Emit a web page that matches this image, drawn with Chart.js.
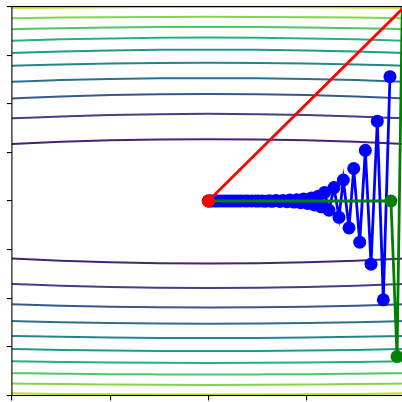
<!DOCTYPE html>
<html>
<head>
<meta charset="utf-8">
<script src="https://cdn.jsdelivr.net/npm/chart.js@4.4.1/dist/chart.umd.min.js"></script>
<style>
  html, body { margin: 0; padding: 0; background: #fff; overflow: hidden; }
  #wrap { position: relative; width: 420px; height: 402px; }
</style>
</head>
<body>
<div id="wrap"><canvas id="pathChart" width="420" height="402"></canvas></div>
<script>
// contour levels, sampled at x = -2..2, inner level first
const contourX = [-2, -1.5, -1, -0.5, 0, 0.5, 1, 1.5, 2];
const contourUpper = [
  [0.586, 0.608, 0.624, 0.633, 0.636, 0.633, 0.624, 0.608, 0.586],
  [0.850, 0.870, 0.885, 0.893, 0.896, 0.893, 0.885, 0.870, 0.850],
  [1.054, 1.074, 1.089, 1.097, 1.100, 1.097, 1.089, 1.074, 1.054],
  [1.227, 1.243, 1.254, 1.261, 1.263, 1.261, 1.254, 1.243, 1.227],
  [1.390, 1.404, 1.413, 1.419, 1.421, 1.419, 1.413, 1.404, 1.390],
  [1.522, 1.537, 1.548, 1.554, 1.556, 1.554, 1.548, 1.537, 1.522],
  [1.648, 1.662, 1.672, 1.678, 1.680, 1.678, 1.672, 1.662, 1.648],
  [1.767, 1.777, 1.784, 1.789, 1.790, 1.789, 1.784, 1.777, 1.767],
  [1.879, 1.886, 1.890, 1.893, 1.894, 1.893, 1.890, 1.886, 1.879],
  [1.986, 1.990, 1.993, 1.995, 1.996, 1.995, 1.993, 1.990, 1.986],
];
const contourLower = [
  [-0.591, -0.614, -0.630, -0.639, -0.642, -0.639, -0.630, -0.614, -0.591],
  [-0.853, -0.871, -0.884, -0.891, -0.894, -0.891, -0.884, -0.871, -0.853],
  [-1.061, -1.076, -1.087, -1.093, -1.095, -1.093, -1.087, -1.076, -1.061],
  [-1.234, -1.246, -1.254, -1.259, -1.261, -1.259, -1.254, -1.246, -1.234],
  [-1.387, -1.397, -1.404, -1.409, -1.410, -1.409, -1.404, -1.397, -1.387],
  [-1.522, -1.531, -1.538, -1.542, -1.543, -1.542, -1.538, -1.531, -1.522],
  [-1.648, -1.655, -1.661, -1.664, -1.665, -1.664, -1.661, -1.655, -1.648],
  [-1.770, -1.776, -1.781, -1.783, -1.784, -1.783, -1.781, -1.776, -1.770],
  [-1.876, -1.883, -1.887, -1.890, -1.891, -1.890, -1.887, -1.883, -1.876],
  [-1.978, -1.984, -1.988, -1.990, -1.991, -1.990, -1.988, -1.984, -1.978],
];
const levelColors = [
  "#482374", "#433e85", "#38588c", "#2d708e", "#25858e",
  "#1e9b8a", "#2ab07f", "#52c569", "#86d549", "#c2df23",
];

// optimiser paths
const blueX = [
  0, 0.02, 0.04, 0.07, 0.09, 0.12, 0.15, 0.18, 0.21, 0.24,
  0.27, 0.30, 0.33, 0.37, 0.40, 0.44, 0.48, 0.51, 0.55, 0.58,
  0.62, 0.65, 0.69, 0.73, 0.76, 0.80, 0.83, 0.87, 0.90, 0.94,
  0.97, 1.01, 1.05, 1.08, 1.12, 1.15, 1.185, 1.229, 1.280, 1.331,
  1.375, 1.433, 1.481, 1.542, 1.599, 1.657, 1.721, 1.782, 1.850,
];
const blueY = [
  0, 0, 0, 0, 0, 0, 0, 0, 0, 0,
  0, 0, 0, 0, 0, 0, 0, -0.001, 0.001, -0.002,
  0.002, -0.003, 0.004, -0.005, 0.006, -0.007, 0.009, -0.011, 0.013, -0.017,
  0.021, -0.026, 0.032, -0.040, 0.050, -0.060, 0.088, -0.095, 0.138, -0.168,
  0.216, -0.277, 0.334, -0.423, 0.521, -0.650, 0.820, -1.016, 1.278,
];
const greenX = [0, 1.86, 1.922, 1.99];
const greenY = [0, 0, -1.599, 3.0];
const redX = [0, 2.5];
const redY = [0, 2.5];

function toPoints(xs, ys) {
  return xs.map((x, i) => ({ x: x, y: ys[i] }));
}

function pathDataset(xs, ys, color, order) {
  return {
    data: toPoints(xs, ys),
    showLine: true,
    borderColor: color,
    backgroundColor: color,
    borderWidth: 2.8,
    pointRadius: 6.5,
    pointBorderWidth: 0,
    pointHoverRadius: 6.5,
    order: order,
  };
}

const datasets = [
  pathDataset(redX, redY, "#ff0000", 1),
  pathDataset(greenX, greenY, "#008000", 2),
  pathDataset(blueX, blueY, "#0000ff", 3),
];

[contourUpper, contourLower].forEach((half) => {
  half.forEach((ys, i) => {
    datasets.push({
      data: toPoints(contourX, ys),
      showLine: true,
      borderColor: levelColors[i],
      borderWidth: 2,
      pointRadius: 0,
      cubicInterpolationMode: "monotone",
      order: 10,
    });
  });
});

// box around the axes, drawn above the lines
const frame = {
  id: "frame",
  afterDatasetsDraw(chart) {
    const { ctx, chartArea: a } = chart;
    ctx.save();
    ctx.strokeStyle = "#000";
    ctx.lineWidth = 1.1;
    ctx.strokeRect(a.left, a.top, a.right - a.left, a.bottom - a.top);
    ctx.restore();
  },
};

const axisGrid = {
  drawOnChartArea: false,
  drawTicks: true,
  tickLength: 5,
  color: "#000",
  lineWidth: 1.1,
};

new Chart(document.getElementById("pathChart").getContext("2d"), {
  type: "scatter",
  data: { datasets: datasets },
  options: {
    responsive: false,
    animation: false,
    layout: { padding: { left: 6.9, top: 3.2, right: 15.3, bottom: 1.1 } },
    plugins: {
      legend: { display: false },
      tooltip: { enabled: false },
    },
    scales: {
      x: {
        type: "linear",
        min: -2,
        max: 2,
        ticks: { display: false, stepSize: 1 },
        grid: axisGrid,
        border: { display: false },
      },
      y: {
        type: "linear",
        min: -2,
        max: 2,
        ticks: { display: false, stepSize: 0.5 },
        grid: axisGrid,
        border: { display: false },
      },
    },
  },
  plugins: [frame],
});
</script>
</body>
</html>
